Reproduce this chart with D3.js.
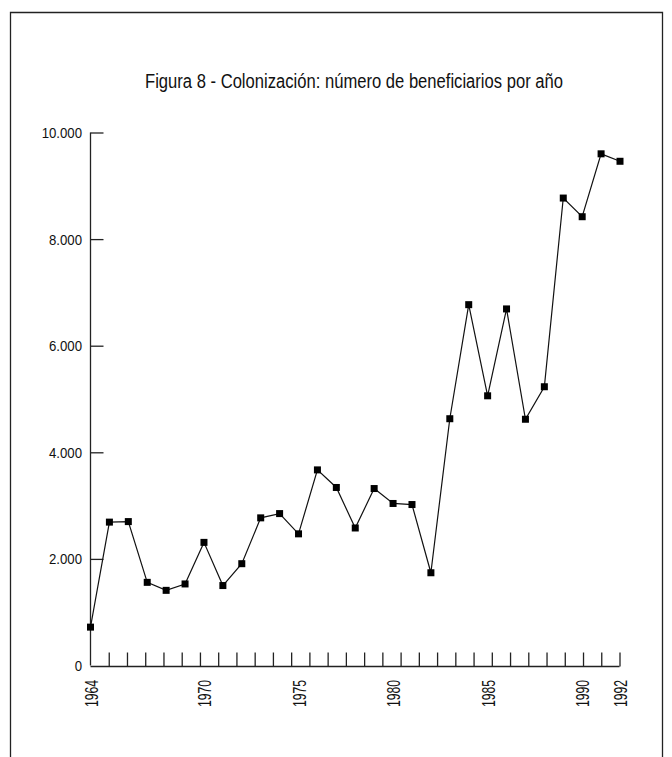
<!DOCTYPE html>
<html><head><meta charset="utf-8">
<script src="https://cdn.jsdelivr.net/npm/d3@7"></script>
<style>html,body{margin:0;padding:0;background:#fff;}svg{display:block;}</style>
</head><body>
<script>
const title = "Figura 8 - Colonización: número de beneficiarios por año";
const years = [1964,1965,1966,1967,1968,1969,1970,1971,1972,1973,1974,1975,1976,1977,1978,1979,1980,1981,1982,1983,1984,1985,1986,1987,1988,1989,1990,1991,1992];
const beneficiarios = [720,2690,2700,1560,1410,1530,2310,1500,1910,2770,2850,2470,3670,3340,2580,3320,3040,3020,1740,4630,6770,5060,6690,4620,5230,8770,8420,9600,9460];
const yTicks = [0,2000,4000,6000,8000,10000];
const yTickLabels = ["0","2.000","4.000","6.000","8.000","10.000"];
const xLabelYears = [1964,1970,1975,1980,1985,1990,1992];

const W = 672, H = 757;
const svg = d3.select("body").append("svg").attr("width", W).attr("height", H);
const font = "'Liberation Sans Narrow','Liberation Sans',Arial,sans-serif";

// frame
svg.append("path").attr("d", `M10.5,${H+2} V12.5 H662.5 V${H+2}`)
  .attr("fill","none").attr("stroke","#222").attr("stroke-width",1.3);

svg.append("text").attr("x", 354).attr("y", 88).attr("text-anchor","middle")
  .attr("font-family", font).attr("font-size", 20).attr("fill","#111")
  .attr("textLength", 418).attr("lengthAdjust","spacingAndGlyphs")
  .text(title);

const x = d3.scaleLinear().domain([1964,1992]).range([90.5,620]);
const y = d3.scaleLinear().domain([0,10000]).range([665.5,132.5]);
const xt = d3.scaleLinear().domain([0,29]).range([90.5,619.5]);

// y axis
const yAxis = svg.append("g").attr("transform","translate(90.5,0)")
  .call(d3.axisRight(y).tickValues(yTicks).tickSize(13).tickFormat(""));
yAxis.select(".domain").attr("d", `M0,${y(10000)}V${y(0)}`).attr("stroke","#222").attr("stroke-width",1.3);
yAxis.selectAll(".tick line").attr("stroke","#222").attr("stroke-width",1.3)
  .filter(d => d === 0).remove();
svg.append("g").selectAll("text").data(yTicks).join("text")
  .attr("transform", d => `translate(82,${y(d)}) scale(0.88,1)`)
  .attr("dy","0.36em").attr("text-anchor","end")
  .attr("font-family", font).attr("font-size", 15).attr("fill","#111")
  .text((d,i) => yTickLabels[i]);

// x axis
const ticksIdx = d3.range(1,30);
const xAxis = svg.append("g").attr("transform",`translate(0,${y(0)+1})`)
  .call(d3.axisTop(xt).tickValues(ticksIdx).tickSize(14).tickFormat(""));
xAxis.select(".domain").attr("d", `M${xt(0)},0H${xt(29)}`).attr("stroke","#222").attr("stroke-width",1.3);
xAxis.selectAll(".tick line").attr("stroke","#222").attr("stroke-width",1.3);
svg.append("g").selectAll("text").data(xLabelYears).join("text")
  .attr("transform", d => `translate(${x(d)+7},680) rotate(-90)`)
  .attr("text-anchor","end")
  .attr("font-family", font).attr("font-size", 18).attr("fill","#111")
  .attr("textLength", 27).attr("lengthAdjust","spacingAndGlyphs")
  .text(d => d);

// line
const data = years.map((yr,i) => ({yr, v: beneficiarios[i]}));
svg.append("path").datum(data)
  .attr("d", d3.line().x(d => x(d.yr)).y(d => y(d.v)))
  .attr("fill","none").attr("stroke","#111").attr("stroke-width",1.2);
svg.append("g").selectAll("rect").data(data).join("rect")
  .attr("x", d => x(d.yr)-3.5).attr("y", d => y(d.v)-3.5)
  .attr("width",7).attr("height",7).attr("fill","#000");
</script>
</body></html>
